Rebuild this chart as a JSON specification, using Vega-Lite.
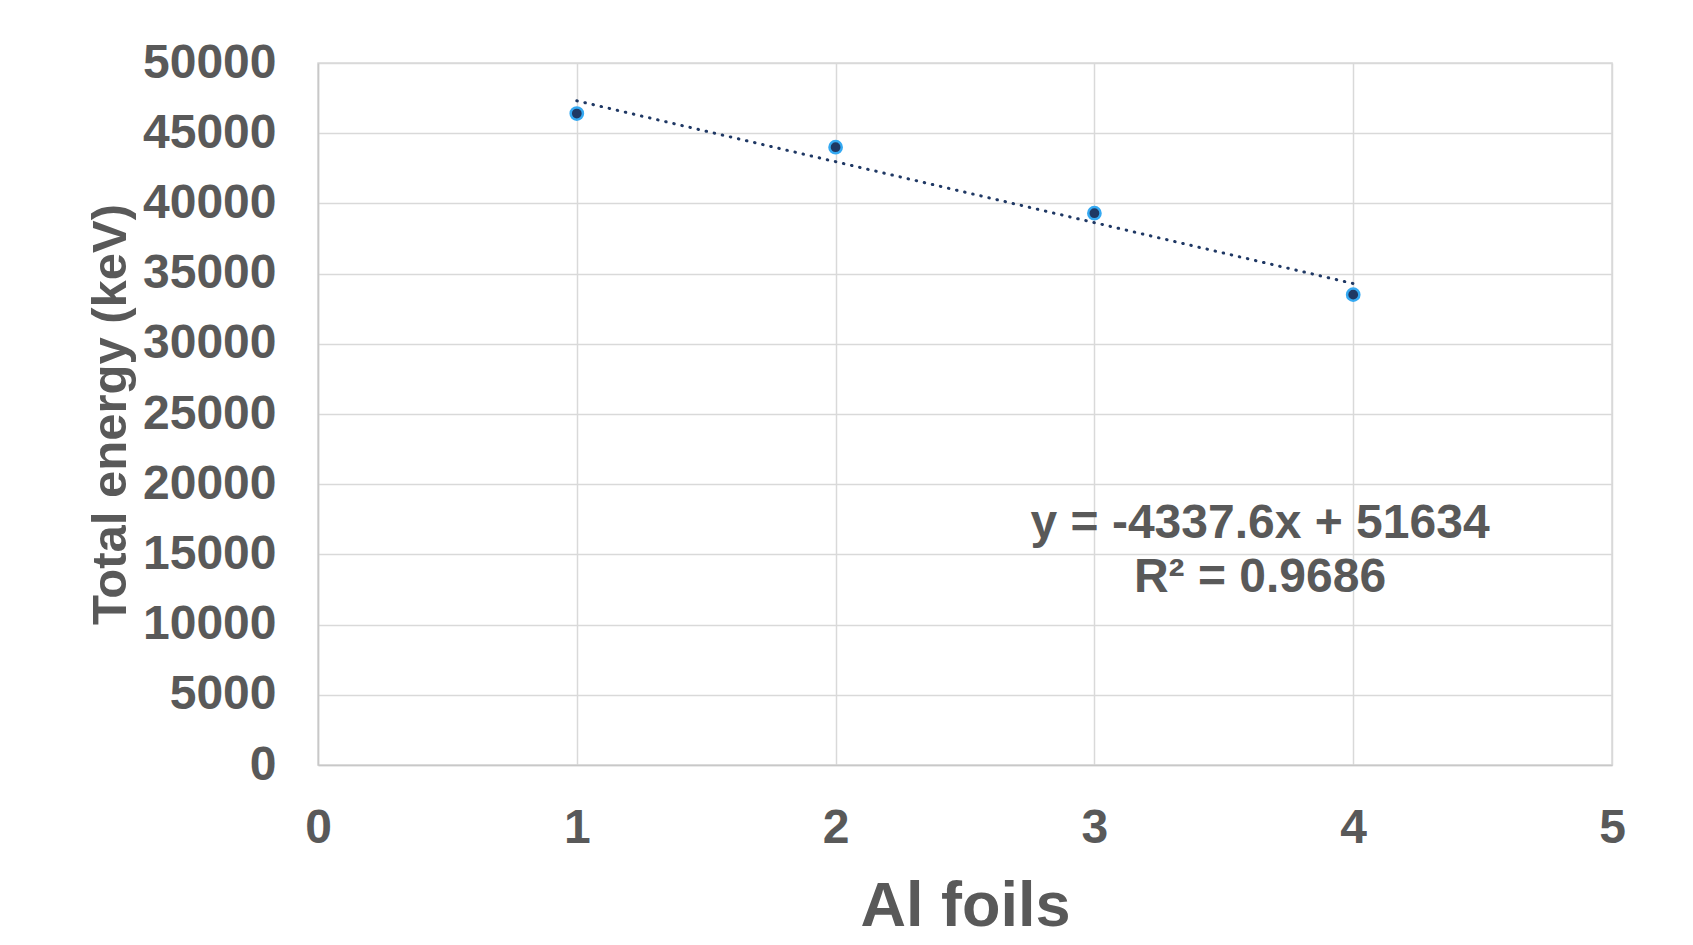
{
  "$schema": "https://vega.github.io/schema/vega-lite/v6.json",
  "width": 1294,
  "height": 702,
  "autosize": {"type": "none"},
  "padding": {"left": 318, "top": 63, "right": 81, "bottom": 180},
  "background": "white",
  "config": {
    "view": {"stroke": "#d9d9d9", "strokeWidth": 1.5},
    "font": "Liberation Sans"
  },
  "datasets": {
    "pts": [
      {"foils": 1, "energy": 46400},
      {"foils": 2, "energy": 44000},
      {"foils": 3, "energy": 39300},
      {"foils": 4, "energy": 33500}
    ],
    "note": [
      {"foils": 3.64, "energy": 16168, "label": "y = -4337.6x + 51634"},
      {"foils": 3.64, "energy": 12343, "label": "R² = 0.9686"}
    ]
  },
  "layer": [
    {
      "data": {"name": "pts"},
      "transform": [{"regression": "energy", "on": "foils", "extent": [1, 4]}],
      "mark": {
        "type": "line",
        "color": "#1f3864",
        "strokeWidth": 3,
        "strokeDash": [0.5, 7.8],
        "strokeCap": "round"
      },
      "encoding": {
        "x": {
          "field": "foils",
          "type": "quantitative",
          "scale": {"domain": [0, 5], "nice": false, "zero": false},
          "axis": {
            "title": "Al foils",
            "values": [0, 1, 2, 3, 4, 5],
            "format": "d",
            "grid": true,
            "gridColor": "#d9d9d9",
            "gridWidth": 1.5,
            "domainColor": "#c8c8c8",
            "domainWidth": 1.5,
            "ticks": false,
            "labelPadding": 39,
            "labelFont": "Liberation Sans",
            "labelFontWeight": "bold",
            "labelFontSize": 48,
            "labelColor": "#595959",
            "labelFlush": false,
            "titleFont": "Liberation Sans",
            "titleFontWeight": "bold",
            "titleFontSize": 63,
            "titleColor": "#595959",
            "titleBaseline": "alphabetic",
            "titleAlign": "center",
            "titleX": 647,
            "titleY": 160
          }
        },
        "y": {
          "field": "energy",
          "type": "quantitative",
          "scale": {"domain": [0, 50000], "nice": false},
          "axis": {
            "title": "Total energy (keV)",
            "values": [0, 5000, 10000, 15000, 20000, 25000, 30000, 35000, 40000, 45000, 50000],
            "format": "d",
            "grid": true,
            "gridColor": "#d9d9d9",
            "gridWidth": 1.5,
            "domainColor": "#c8c8c8",
            "domainWidth": 1.5,
            "ticks": false,
            "labelPadding": 42,
            "labelFont": "Liberation Sans",
            "labelFontWeight": "bold",
            "labelFontSize": 48,
            "labelColor": "#595959",
            "labelFlush": false,
            "titleFont": "Liberation Sans",
            "titleFontWeight": "bold",
            "titleFontSize": 49,
            "titleColor": "#595959",
            "titleAngle": -90,
            "titleBaseline": "alphabetic",
            "titleAlign": "center",
            "titleX": -193,
            "titleY": 351
          }
        }
      }
    },
    {
      "data": {"name": "pts"},
      "mark": {
        "type": "point",
        "filled": true,
        "shape": "circle",
        "size": 150,
        "fill": "#1f3864",
        "stroke": "#35a9f2",
        "strokeWidth": 2.5,
        "opacity": 1
      },
      "encoding": {
        "x": {"field": "foils", "type": "quantitative"},
        "y": {"field": "energy", "type": "quantitative"}
      }
    },
    {
      "data": {"name": "note"},
      "mark": {
        "type": "text",
        "font": "Liberation Sans",
        "fontWeight": "bold",
        "fontSize": 48,
        "color": "#595959",
        "align": "center",
        "baseline": "alphabetic"
      },
      "encoding": {
        "x": {"field": "foils", "type": "quantitative"},
        "y": {"field": "energy", "type": "quantitative"},
        "text": {"field": "label", "type": "nominal"}
      }
    }
  ]
}
